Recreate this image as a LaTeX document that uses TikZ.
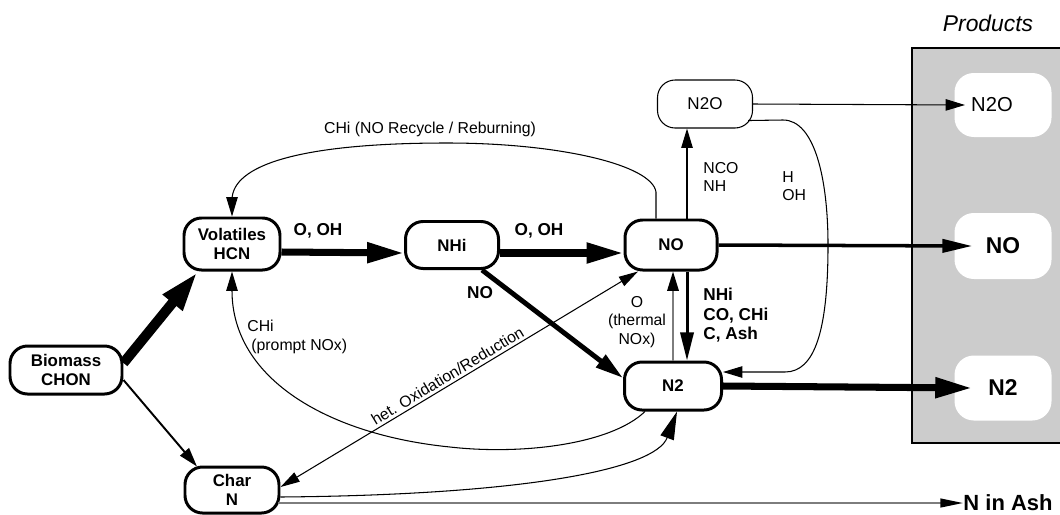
\documentclass[tikz,border=0pt]{standalone}
\usepackage{fontspec}
\setmainfont{Liberation Sans}
\usetikzlibrary{arrows.meta,calc}
\newdimen\pu \pu=0.02cm
\definecolor{boxgray}{RGB}{204,204,204}
\definecolor{lgray}{RGB}{125,125,125}
\begin{document}
\begin{tikzpicture}[x=0.02cm, y=-0.02cm,
  box/.style={draw, line width=1.7pt, rounded corners=10pt, inner sep=0pt, align=center,
    font=\bfseries\fontsize{9.6}{11}\selectfont},
  thinbox/.style={draw, line width=0.6pt, rounded corners=10pt, inner sep=0pt,
    font=\fontsize{9.7}{11}\selectfont},
  prod/.style={fill=white, rounded corners=11pt, inner sep=0pt, minimum width=97\pu},
  lab/.style={inner sep=0pt, align=left, font=\fontsize{9}{10.5}\selectfont},
  blab/.style={inner sep=0pt, align=left, font=\bfseries\fontsize{9.8}{11}\selectfont},
  thinar/.style={line width=0.6pt, -{Triangle[length=11pt,width=6.5pt]}},
  grayar/.style={draw=lgray, line width=1.1pt, -{Triangle[length=11pt,width=6.5pt,color=black]}},
  medar/.style={line width=1.1pt, -{Triangle[length=11pt,width=6.5pt]}},
  downar/.style={line width=1.7pt, -{Triangle[length=16pt,width=7.5pt]}},
  diagar/.style={line width=2.8pt, -{Triangle[length=16pt,width=8.5pt]}},
  thickar/.style={line width=4pt, -{Triangle[length=21pt,width=11pt]}},
  vthickar/.style={line width=5.7pt, -{Triangle[length=23pt,width=13pt]}},
  noar/.style={line width=2pt, -{Triangle[length=17pt,width=7.5pt]}},
  curvear/.style={line width=0.6pt, -{Triangle[length=16pt,width=8pt]}},
  asharr/.style={draw=lgray, line width=1.1pt, -{Triangle[length=13pt,width=5pt,color=black]}}
]
\clip (0,0) rectangle (1060,514);
% products panel
\draw[line width=0.8pt, fill=boxgray] (912,48) rectangle (1075,443);
\node[inner sep=0pt, font=\itshape\fontsize{13}{15}\selectfont] (prodlab) at (988,23) {Products};
\node[prod, minimum height=64\pu] (pn2o) at (1003,105) {};
\node[inner sep=0.3333em, font=\fontsize{11.5}{13}\selectfont] (tn2o) at (992,105) {N2O};
\node[prod, minimum height=66\pu, font=\bfseries\fontsize{13}{15}\selectfont] (pno) at (1003,246) {NO};
\node[prod, minimum height=65\pu, font=\bfseries\fontsize{13}{15}\selectfont] (pn2) at (1003,388) {N2};
\node[inner sep=0pt, font=\bfseries\fontsize{12.5}{14}\selectfont] (nash) at (1008,503) {N in Ash};

% main nodes
\node[box, minimum width=112\pu, minimum height=48\pu] (bio) at (66,370) {Biomass\\CHON};
\node[box, minimum width=96\pu, minimum height=52\pu] (vol) at (232,244) {Volatiles\\HCN};
\node[box, minimum width=94\pu, minimum height=46\pu] (char) at (232,490) {Char\\N};
\node[box, minimum width=93\pu, minimum height=47\pu] (nhi) at (452,245) {NHi};
\node[box, minimum width=92\pu, minimum height=50\pu] (no) at (671,245) {NO};
\node[box, minimum width=97\pu, minimum height=48\pu] (n2) at (673,386) {N2};
\node[thinbox, minimum width=95\pu, minimum height=48\pu] (n2o) at (705,104) {N2O};

% labels
\node[blab] (l1) at (318,231) {O, OH};
\node[blab] (l2) at (539,231) {O, OH};
\node[blab] (l3) at (480,293) {NO};
\node[blab, anchor=north west] (l4) at (703,288) {NHi\\CO, CHi\\C, Ash};
\node[lab, align=center, anchor=north] (l5) at (637,296) {O\\(thermal\\NOx)};
\node[lab, anchor=north west] (l6) at (703,162) {NCO\\NH};
\node[lab, anchor=north west] (l7) at (782,171) {H\\OH};
\node[lab] (l8) at (430,129) {CHi (NO Recycle / Reburning)};
\node[lab, anchor=north west] (l9) at (247,320) {CHi\\\hspace*{2.3pt}(prompt NOx)};

% connectors
\draw[vthickar] ($(bio.east)+(0,-7)$) -- ($(vol.south)+(-34,0)$);
\draw[medar] ($(bio.east)+(0,10)$) -- ($(char.north)+(-35,1)$);
\draw[thickar] ($(vol.east)+(0,8)$) -- ($(nhi.west)+(0,8)$);
\draw[thickar] ($(nhi.east)+(0,8)$) -- ($(no.west)+(0,8)$);
\draw[diagar] ($(nhi.south)+(30,0)$) -- ($(n2.west)+(0,-8)$);
\draw[downar] ($(no.south)+(16,0)$) -- ($(n2.north)+(14,0)$);
\draw[grayar] (n2.north) -- ($(no.south)+(2,0)$);
\draw[thinar] ($(no.north)+(16,0)$) -- ($(n2o.south)+(-18,0)$);
\draw[thinar] ($(n2o.south east)+(-5,-8)$) -- (783,120)
  .. controls (815,120) and (828,180) .. (828,245)
  .. controls (828,330) and (815,372) .. (785,372) -- ($(n2.east)+(0,-14)$);
\draw[thinar] (n2o.east) -- (tn2o.west);
\draw[noar] (no.east) -- ($(pno.west)+(18,0)$);
\draw[thickar] (n2.east) -- ($(pn2.west)+(18,0)$);
\draw[thinar] ($(no.north)+(-15,0)$) -- (656,192)
  .. controls (652,165) and (560,143) .. (447,143)
  .. controls (300,143) and (232,165) .. (232,200) -- (vol.north);
\draw[thinar] ($(n2.south)+(-28,0)$) .. controls (610,445) and (520,455) .. (450,447)
  .. controls (330,435) and (232,380) .. (vol.south);
\draw[line width=0.6pt, {Triangle[length=11pt,width=6pt]}-{Triangle[length=11pt,width=6pt]}]
  ($(char.east)+(0,-3)$) -- node[lab, sloped, above, pos=0.48, inner sep=1.5pt] {het. Oxidation/Reduction}
  ($(no.south)+(-33,0)$);
\draw[curvear] ($(char.east)+(0,7)$) .. controls (520,495) and (655,470) .. ($(n2.south)+(4,0)$);
\draw[asharr] ($(char.east)+(-2,13)$) -- (nash.west);
\end{tikzpicture}
\end{document}
